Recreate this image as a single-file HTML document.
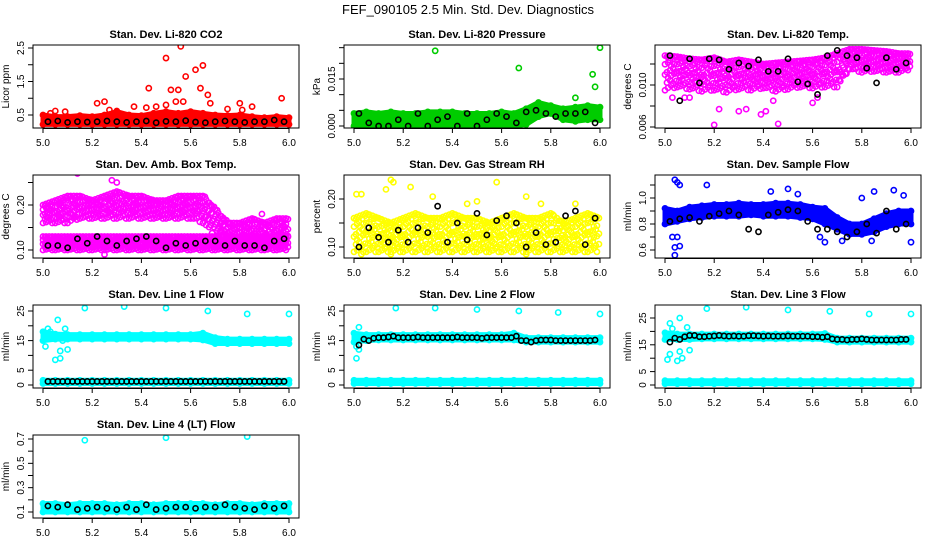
<!DOCTYPE html>
<html><head><meta charset="utf-8">
<style>
body{margin:0;background:#fff;}
svg{display:block;font-family:"Liberation Sans",Arial,sans-serif;}
.tt{font-weight:bold;font-size:11px;}
.tk{font-size:10px;}
</style></head>
<body>
<svg id="chart" width="936" height="540" viewBox="0 0 936 540">
<text x="468" y="14" text-anchor="middle" font-size="13">FEF_090105  2.5 Min. Std. Dev. Diagnostics</text>
</svg>
<script>
const bandX=[5.0,5.05,5.1,5.15,5.2,5.25,5.3,5.35,5.4,5.45,5.5,5.55,5.6,5.65,5.7,5.75,5.8,5.85,5.9,5.95,6.0];
const blkX=[5.02,5.06,5.10,5.14,5.18,5.22,5.26,5.30,5.34,5.38,5.42,5.46,5.50,5.54,5.58,5.62,5.66,5.70,5.74,5.78,5.82,5.86,5.90,5.94,5.98];
const lineBlkX=[5.02,5.04,5.06,5.08,5.10,5.12,5.14,5.16,5.18,5.20,5.22,5.24,5.26,5.28,5.30,5.32,5.34,5.36,5.38,5.40,5.42,5.44,5.46,5.48,5.50,5.52,5.54,5.56,5.58,5.60,5.62,5.64,5.66,5.68,5.70,5.72,5.74,5.76,5.78,5.80,5.82,5.84,5.86,5.88,5.90,5.92,5.94,5.96,5.98];
const xTicks=[5.0,5.2,5.4,5.6,5.8,6.0];
const xTickLabels=["5.0","5.2","5.4","5.6","5.8","6.0"];

const co2Lo=[0.22,0.22,0.22,0.22,0.22,0.22,0.22,0.22,0.22,0.22,0.22,0.22,0.22,0.22,0.22,0.22,0.22,0.22,0.22,0.22,0.22];
const co2Hi=[0.5,0.45,0.45,0.48,0.45,0.5,0.6,0.5,0.48,0.55,0.6,0.55,0.6,0.55,0.5,0.48,0.5,0.45,0.42,0.45,0.42];
const co2OutX=[5.03,5.05,5.09,5.22,5.25,5.27,5.3,5.37,5.42,5.43,5.46,5.5,5.5,5.52,5.54,5.55,5.56,5.57,5.58,5.62,5.64,5.65,5.67,5.68,5.75,5.8,5.81,5.85,5.97];
const co2OutY=[0.55,0.62,0.6,0.85,0.9,0.65,0.62,0.75,0.72,1.3,0.75,2.2,0.8,1.25,0.9,1.25,2.55,0.9,1.65,1.85,1.3,1.98,1.1,0.85,0.68,0.85,0.65,0.75,1.0];
const co2Blk=[0.3,0.32,0.28,0.3,0.29,0.3,0.32,0.3,0.28,0.3,0.32,0.27,0.31,0.3,0.33,0.29,0.27,0.3,0.32,0.3,0.28,0.3,0.3,0.35,0.3];

const presLo=[0,0,0,0,0,0,0,0,0,0,0,0,0,0,0.0005,0.003,0.004,0.002,0.0015,0.002,0.002];
const presHi=[0.004,0.0045,0.004,0.0045,0.004,0.004,0.0045,0.0045,0.0045,0.004,0.004,0.004,0.0045,0.004,0.0055,0.0075,0.0065,0.0055,0.006,0.0065,0.006];
const presOutX=[5.33,5.67,5.97,5.98,6.0,5.9];
const presOutY=[0.024,0.0185,0.0165,0.0125,0.025,0.009];
const presBlk=[0.004,0.001,0,0,0.002,0,0.004,0,0.002,0.003,0,0.004,0,0.002,0.004,0.003,0.001,0.0045,0.005,0.004,0.003,0.004,0.004,0.0045,0.001];

const tempLo=[0.0095,0.0098,0.0096,0.0094,0.0095,0.0093,0.0096,0.0095,0.0097,0.0094,0.0096,0.0098,0.0097,0.0098,0.0098,0.0115,0.0112,0.0113,0.0112,0.0112,0.0115];
const tempHi=[0.0128,0.0127,0.0125,0.0124,0.0126,0.0122,0.0124,0.0122,0.012,0.0121,0.0122,0.0123,0.0124,0.0126,0.013,0.0134,0.0134,0.0133,0.0132,0.013,0.013];
const tempOutX=[5.03,5.2,5.22,5.3,5.33,5.39,5.41,5.46,5.44,5.6,5.62,5.08,5.1];
const tempOutY=[0.0088,0.0062,0.0077,0.0075,0.0077,0.0072,0.0075,0.0063,0.0085,0.0083,0.0088,0.0088,0.0088];
const tempBlk=[0.0128,0.0085,0.0125,0.0102,0.0125,0.0124,0.0115,0.0121,0.0118,0.0124,0.0113,0.0113,0.0125,0.0103,0.0101,0.0091,0.0128,0.0133,0.0128,0.0126,0.0116,0.0102,0.0126,0.0115,0.0121];

const ambUpLo=[0.16,0.16,0.16,0.17,0.17,0.17,0.17,0.17,0.17,0.17,0.17,0.17,0.17,0.16,0.13,0.12,0.12,0.12,0.11,0.12,0.12];
const ambUpHi=[0.2,0.21,0.22,0.22,0.21,0.22,0.23,0.22,0.22,0.21,0.21,0.22,0.22,0.22,0.19,0.16,0.16,0.17,0.16,0.17,0.17];
const ambLowLo=[0.1,0.1,0.1,0.1,0.1,0.1,0.1,0.1,0.1,0.1,0.1,0.1,0.1,0.1,0.1,0.1,0.1,0.1,0.1,0.1,0.1];
const ambLowHi=[0.13,0.13,0.13,0.13,0.13,0.13,0.13,0.13,0.13,0.13,0.13,0.13,0.13,0.13,0.13,0.13,0.13,0.13,0.13,0.13,0.13];
const ambOutX=[5.14,5.28,5.25,5.89,5.3];
const ambOutY=[0.27,0.255,0.09,0.18,0.25];
const ambBlk=[0.11,0.11,0.105,0.125,0.115,0.13,0.12,0.11,0.12,0.125,0.13,0.12,0.105,0.115,0.11,0.115,0.12,0.12,0.11,0.12,0.11,0.11,0.105,0.12,0.125];

const rhLo=[0.09,0.09,0.09,0.09,0.09,0.09,0.09,0.09,0.09,0.09,0.09,0.09,0.09,0.09,0.09,0.09,0.09,0.09,0.09,0.09,0.09];
const rhHi=[0.16,0.17,0.16,0.15,0.16,0.17,0.16,0.16,0.17,0.16,0.16,0.15,0.16,0.17,0.16,0.16,0.17,0.15,0.16,0.17,0.16];
const rhOutX=[5.01,5.03,5.13,5.15,5.16,5.23,5.32,5.46,5.5,5.58,5.7,5.76,5.9,5.03,5.15,5.7];
const rhOutY=[0.21,0.21,0.22,0.24,0.235,0.225,0.205,0.19,0.195,0.235,0.205,0.19,0.19,0.085,0.085,0.085];
const rhBlk=[0.1,0.14,0.12,0.11,0.135,0.11,0.14,0.13,0.185,0.11,0.15,0.115,0.17,0.125,0.155,0.165,0.15,0.10,0.13,0.105,0.11,0.165,0.175,0.105,0.16];

const flowLo=[0.8,0.82,0.84,0.85,0.86,0.86,0.86,0.87,0.86,0.86,0.86,0.85,0.84,0.8,0.76,0.72,0.72,0.74,0.78,0.8,0.8];
const flowHi=[0.92,0.9,0.93,0.94,0.95,0.95,0.96,0.95,0.95,0.96,0.96,0.95,0.93,0.92,0.85,0.8,0.8,0.84,0.88,0.9,0.9];
const flowOutX=[5.04,5.05,5.06,5.17,5.03,5.05,5.04,5.06,5.04,5.43,5.5,5.54,5.85,5.93,5.97,5.8,5.65,5.72,5.84,6.0,5.63];
const flowOutY=[1.14,1.12,1.1,1.1,0.7,0.7,0.62,0.63,0.56,1.05,1.07,1.03,1.05,1.06,1.02,1.0,0.66,0.67,0.67,0.66,0.7];
const flowBlk=[0.82,0.84,0.85,0.82,0.86,0.88,0.9,0.87,0.76,0.74,0.87,0.89,0.91,0.9,0.82,0.76,0.76,0.74,0.7,0.74,0.8,0.73,0.9,0.76,0.8];

const l1Lo=[15,15.5,15.5,15.5,15.5,15.5,15.5,15.5,15.5,15.5,15.5,15.5,15.5,15.2,14,14,14,14,14,14,14];
const l1Hi=[18,17.2,17,17,17,17,17,17,17,17,17,17,17,17.5,16,15.5,15.5,15.5,15.5,15.5,15.5];
const lowFlowLo=[0.5,0.5,0.5,0.5,0.5,0.5,0.5,0.5,0.5,0.5,0.5,0.5,0.5,0.5,0.5,0.5,0.5,0.5,0.5,0.5,0.5];
const lowFlowHi=[1.6,1.6,1.6,1.6,1.6,1.6,1.6,1.6,1.6,1.6,1.6,1.6,1.6,1.6,1.6,1.6,1.6,1.6,1.6,1.6,1.6];
const l1OutX=[5.01,5.02,5.03,5.06,5.07,5.05,5.07,5.08,5.09,5.1,5.17,5.33,5.5,5.67,5.83,6.0];
const l1OutY=[13,19,18,22,11.5,8.5,9,15,19,12,26,26.5,26,25,24,24];
const l1Blk=[1.2,1.2,1.2,1.2,1.2,1.2,1.2,1.2,1.2,1.2,1.2,1.2,1.2,1.2,1.2,1.2,1.2,1.2,1.2,1.2,1.2,1.2,1.2,1.2,1.2,1.2,1.2,1.2,1.2,1.2,1.2,1.2,1.2,1.2,1.2,1.2,1.2,1.2,1.2,1.2,1.2,1.2,1.2,1.2,1.2,1.2,1.2,1.2,1.2];

const l2Lo=[14.5,15,15.2,15.2,15.2,15.2,15.2,15.2,15.2,15.2,15.2,15.2,15.2,15.2,14.5,14.5,14.5,14.5,14.5,14.5,14.5];
const l2Hi=[17.5,17,17,17,17,17,17,17,17,17,17,17,17,17.5,16,16,16,16,16,16,16];
const l2OutX=[5.01,5.02,5.02,5.01,5.17,5.33,5.5,5.67,5.83,6.0];
const l2OutY=[9,12,19.5,13,26,26,25.5,25,24.5,24];
const l2Blk=[13.5,15.5,15,15.8,16,16,16.2,16.5,16,16,16,16,16.2,16,16,16,16,16,16,16,16.2,16,16,16,16,15.8,16,16,16,16,16,16,16.5,15,15,14.5,15,15.2,15.2,15.2,15,15,15,15,15,15,15,15,15.2];

const l3Lo=[17,17,17,17.2,17.2,17.2,17.2,17.2,17.2,17.2,17.2,17.2,17.2,17,16,16,16,16,16,16,16];
const l3Hi=[19.5,19,19,19,19,19,19,19,19,19,19,19,19,19.2,17.5,17.5,17.5,17.5,17.5,17.5,17.5];
const l3OutX=[5.01,5.02,5.02,5.03,5.05,5.06,5.06,5.07,5.09,5.1,5.17,5.33,5.5,5.67,5.83,6.0];
const l3OutY=[9.5,11.5,23,21,9,25,12.5,10,21.5,13,28.5,29,28,27.5,26.5,26.5];
const l3Blk=[16,17.5,17,18,18.5,18.5,18,18,18.2,18.3,18.5,18.3,18.2,18.3,18.2,18.2,18.4,18.4,18.3,18.2,18.3,18.2,18.2,18.2,18.3,18.2,18.2,18.2,18.2,18,18,17.8,18,17.2,17,17,16.8,17,17,17.2,17,16.8,16.8,16.8,16.8,16.8,16.8,17,17];

const l4Lo=[0.1,0.1,0.1,0.1,0.1,0.1,0.1,0.1,0.1,0.1,0.1,0.1,0.1,0.1,0.1,0.1,0.1,0.1,0.1,0.1,0.1];
const l4Hi=[0.17,0.17,0.16,0.17,0.17,0.17,0.16,0.17,0.17,0.16,0.17,0.17,0.17,0.17,0.16,0.17,0.17,0.16,0.17,0.17,0.17];
const l4OutX=[5.17,5.5,5.83];
const l4OutY=[0.69,0.71,0.72];
const l4Blk=[0.15,0.14,0.16,0.12,0.13,0.14,0.13,0.12,0.14,0.12,0.16,0.12,0.13,0.14,0.14,0.13,0.14,0.14,0.16,0.14,0.13,0.12,0.15,0.13,0.15];

const svg=document.getElementById('chart');
const NS='http://www.w3.org/2000/svg';
function mk(tag,attrs,parent){const e=document.createElementNS(NS,tag);for(const k in attrs)e.setAttribute(k,attrs[k]);(parent||svg).appendChild(e);return e;}

const colL=[33,344,655], rowT=[45,175,305,435], W=266, H=83;
const panels=[
 {name:'co2',solid:true,title:'Stan. Dev. Li-820 CO2',yl:'Licor ppm',c:0,r:0,col:'#ff0000',v0:0.5,p0:115,v1:2.5,p1:48,ticks:[0.5,1.0,1.5,2.0,2.5],labels:['0.5','','1.5','','2.5'],bands:[[co2Lo,co2Hi]],ox:co2OutX,oy:co2OutY,bx:blkX,by:co2Blk},
 {name:'pressure',solid:true,title:'Stan. Dev. Li-820 Pressure',yl:'kPa',c:1,r:0,col:'#00cc00',v0:0,p0:126,v1:0.015,p1:79,ticks:[0,0.005,0.01,0.015,0.02,0.025],labels:['0.000','','','0.015','',''],bands:[[presLo,presHi]],ox:presOutX,oy:presOutY,bx:blkX,by:presBlk},
 {name:'temp',solid:false,title:'Stan. Dev. Li-820 Temp.',yl:'degrees C',c:2,r:0,col:'#ff00ff',v0:0.006,p0:127,v1:0.010,p1:85,ticks:[0.006,0.008,0.010,0.012],labels:['0.006','','0.010',''],bands:[[tempLo,tempHi]],ox:tempOutX,oy:tempOutY,bx:blkX,by:tempBlk},
 {name:'amb-temp',solid:false,title:'Stan. Dev. Amb. Box Temp.',yl:'degrees C',c:0,r:1,col:'#ff00ff',v0:0.10,p0:250,v1:0.20,p1:205,ticks:[0.10,0.15,0.20,0.25],labels:['0.10','','0.20',''],bands:[[ambUpLo,ambUpHi],[ambLowLo,ambLowHi]],ox:ambOutX,oy:ambOutY,bx:blkX,by:ambBlk},
 {name:'rh',solid:false,title:'Stan. Dev. Gas Stream RH',yl:'percent',c:1,r:1,col:'#ffff00',v0:0.10,p0:247,v1:0.20,p1:199,ticks:[0.10,0.15,0.20],labels:['0.10','','0.20'],bands:[[rhLo,rhHi]],ox:rhOutX,oy:rhOutY,bx:blkX,by:rhBlk},
 {name:'sample-flow',solid:true,title:'Stan. Dev. Sample Flow',yl:'ml/min',c:2,r:1,col:'#0000ff',v0:0.6,p0:250,v1:1.0,p1:198,ticks:[0.6,0.7,0.8,0.9,1.0,1.1],labels:['0.6','','0.8','','1.0',''],bands:[[flowLo,flowHi]],ox:flowOutX,oy:flowOutY,bx:blkX,by:flowBlk},
 {name:'line1',solid:true,title:'Stan. Dev. Line 1 Flow',yl:'ml/min',c:0,r:2,col:'#00ffff',v0:0,p0:385,v1:25,p1:311,ticks:[0,5,10,15,20,25],labels:['0','5','','15','','25'],bands:[[l1Lo,l1Hi],[lowFlowLo,lowFlowHi]],ox:l1OutX,oy:l1OutY,bx:lineBlkX,by:l1Blk},
 {name:'line2',solid:true,title:'Stan. Dev. Line 2 Flow',yl:'ml/min',c:1,r:2,col:'#00ffff',v0:0,p0:385,v1:25,p1:311,ticks:[0,5,10,15,20,25],labels:['0','5','','15','','25'],bands:[[l2Lo,l2Hi],[lowFlowLo,lowFlowHi]],ox:l2OutX,oy:l2OutY,bx:lineBlkX,by:l2Blk},
 {name:'line3',solid:true,title:'Stan. Dev. Line 3 Flow',yl:'ml/min',c:2,r:2,col:'#00ffff',v0:0,p0:385,v1:25,p1:318,ticks:[0,5,10,15,20,25],labels:['0','5','','15','','25'],bands:[[l3Lo,l3Hi],[lowFlowLo,lowFlowHi]],ox:l3OutX,oy:l3OutY,bx:lineBlkX,by:l3Blk},
 {name:'line4',solid:true,title:'Stan. Dev. Line 4 (LT) Flow',yl:'ml/min',c:0,r:3,col:'#00ffff',v0:0.1,p0:512,v1:0.7,p1:439,ticks:[0.1,0.2,0.3,0.4,0.5,0.6,0.7],labels:['0.1','','0.3','','0.5','','0.7'],bands:[[l4Lo,l4Hi]],ox:l4OutX,oy:l4OutY,bx:blkX,by:l4Blk}
];

const fracs=[0,0.17,0.35,0.52,0.7,0.87,1];
panels.forEach(p=>{
  const L=colL[p.c], T=rowT[p.r];
  const xs=v=>L+10+(v-5)*(W-20);
  const ys=v=>p.p0+(v-p.v0)*(p.p1-p.p0)/(p.v1-p.v0);
  const g=mk('g',{});
  
  
  const cp=mk('clipPath',{id:'cp-'+p.name},g);
  mk('rect',{x:L,y:T,width:W,height:H},cp);
  const plot=mk('g',{'clip-path':'url(#cp-'+p.name+')'},g);
  p.bands.forEach((b,bi)=>{
    const lo=b[0],hi=b[1];
    if(p.solid){
      let pts=bandX.map((x,i)=>xs(x)+','+ys(hi[i]));
      pts=pts.concat(bandX.map((x,i)=>xs(x)+','+ys(lo[i])).reverse());
      const poly=mk('polygon',{points:pts.join(' '),fill:p.col,stroke:p.col,'stroke-width':5,'stroke-linejoin':'round'},plot);
      
      
      bandX.forEach((x,i)=>{
        [hi[i],lo[i]].forEach(v=>{
          const c=mk('circle',{cx:xs(x),cy:ys(v),r:2.6,fill:'none',stroke:p.col,'stroke-width':1.6},plot);
          
          
        });
      });
    } else {
      bandX.forEach((x,i)=>{
        if(i===bandX.length-1)return;
        for(let s=0;s<4;s++){
          const t=s/4;
          const px=xs(x)+t*(xs(bandX[i+1])-xs(x));
          const l=lo[i]+t*(lo[i+1]-lo[i]), h=hi[i]+t*(hi[i+1]-hi[i]);
          fracs.forEach((f,k)=>{
            const ff=Math.min(1,f+((s+k)%3)*0.05);
            const c=mk('circle',{cx:px+((k%2)?2:0),cy:ys(l+ff*(h-l)),r:2.6,fill:'none',stroke:p.col,'stroke-width':1.6},plot);
            
            
          });
        }
      });
    }
  });
  p.ox.forEach((x,i)=>{
    const c=mk('circle',{cx:xs(x),cy:ys(p.oy[i]),r:2.6,fill:'none',stroke:p.col,'stroke-width':1.6},plot);
    
    
  });
  p.bx.forEach((x,i)=>{
    const c=mk('circle',{cx:xs(x),cy:ys(p.by[i]),r:2.6,fill:'none',stroke:'#000','stroke-width':1.6},plot);
    
    
  });
  const box=mk('rect',{x:L,y:T,width:W,height:H,fill:'none',stroke:'#000','stroke-width':1},g);
  
  
  const t=mk('text',{x:L+W/2,y:T-7,'text-anchor':'middle','class':'tt'},g);
  t.textContent=p.title;
  
  
  xTicks.forEach((v,i)=>{
    mk('line',{x1:xs(v),x2:xs(v),y1:T+H,y2:T+H+5,stroke:'#000'},g);
    const tl=mk('text',{x:xs(v),y:T+H+18,'text-anchor':'middle','class':'tk'},g);
    tl.textContent=xTickLabels[i];
    
    
  });
  mk('line',{x1:xs(5),x2:xs(6),y1:T+H+0.5,y2:T+H+0.5,stroke:'#000'},g);
  const yt=p.ticks.filter(v=>ys(v)>=T-1&&ys(v)<=T+H+1);
  mk('line',{x1:L,x2:L,y1:ys(yt[0]),y2:ys(yt[yt.length-1]),stroke:'#000'},g);
  p.ticks.forEach((v,i)=>{
    const y=ys(v); if(y<T-1||y>T+H+1)return;
    mk('line',{x1:L-5,x2:L,y1:y,y2:y,stroke:'#000'},g);
    if(p.labels[i]){
      const tl=mk('text',{x:L-9,y:y,'text-anchor':'middle','class':'tk',transform:'rotate(-90 '+(L-9)+' '+y+')'},g);
      tl.textContent=p.labels[i];
      
      
    }
  });
  const yl=mk('text',{x:L-24,y:T+H/2,'text-anchor':'middle','class':'tk',transform:'rotate(-90 '+(L-24)+' '+(T+H/2)+')'},g);
  yl.textContent=p.yl;
  
  
});
</script>
</body></html>
